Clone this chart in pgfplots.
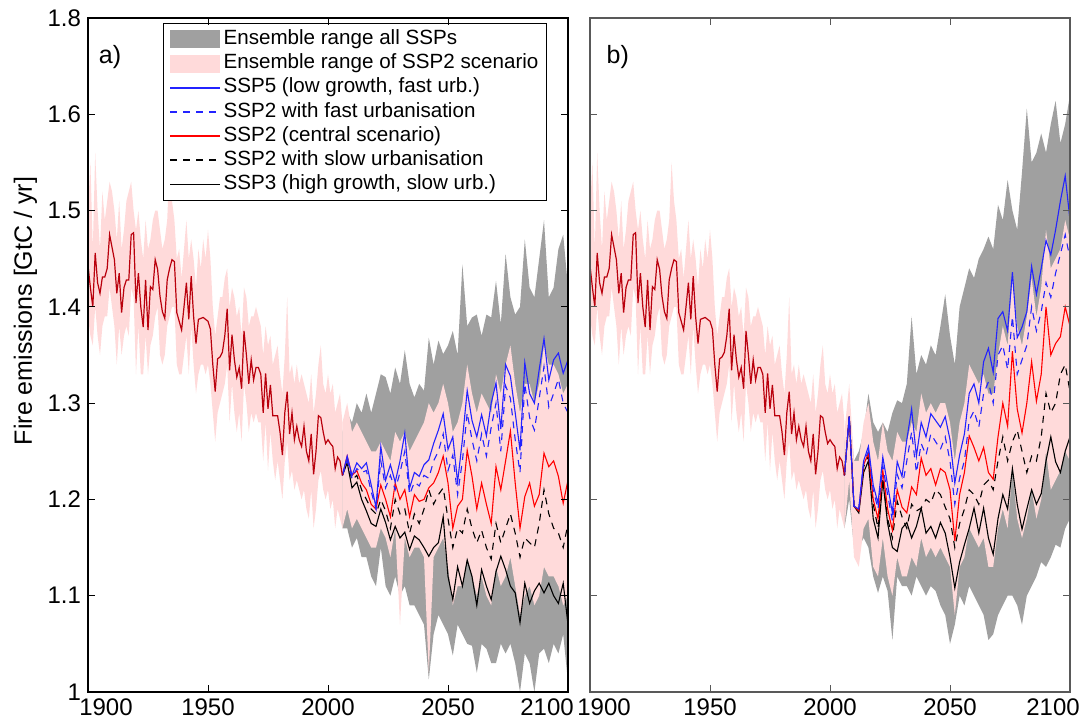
\documentclass[border=0pt]{standalone}
\usepackage{fontspec}
\setmainfont{Liberation Sans}
\usepackage{pgfplots}
\usepackage{pgfplotstable}
\pgfplotsset{compat=1.18}
\usepgfplotslibrary{fillbetween}

\definecolor{ensgray}{RGB}{160,160,160}
\definecolor{enspink}{RGB}{255,218,218}
\definecolor{histred}{RGB}{185,0,12}
\definecolor{sspblue}{RGB}{35,35,255}

% historical part, the same in both panels
\pgfplotstableread{
yr m lo hi
1900 1.443 1.39 1.50
1901 1.420 1.37 1.55
1902 1.400 1.36 1.46
1903 1.456 1.40 1.56
1904 1.425 1.37 1.50
1905 1.414 1.35 1.46
1906 1.431 1.38 1.52
1907 1.431 1.39 1.49
1908 1.440 1.39 1.51
1909 1.475 1.42 1.53
1910 1.462 1.40 1.52
1911 1.449 1.38 1.50
1912 1.414 1.34 1.47
1913 1.435 1.38 1.51
1914 1.394 1.35 1.46
1915 1.420 1.37 1.48
1916 1.428 1.38 1.51
1917 1.428 1.37 1.52
1918 1.475 1.42 1.53
1919 1.477 1.41 1.50
1920 1.404 1.33 1.48
1921 1.435 1.38 1.50
1922 1.400 1.33 1.47
1923 1.379 1.33 1.45
1924 1.428 1.37 1.49
1925 1.376 1.33 1.46
1926 1.421 1.36 1.47
1927 1.418 1.37 1.49
1928 1.449 1.39 1.50
1929 1.439 1.40 1.50
1930 1.411 1.35 1.48
1931 1.395 1.34 1.46
1932 1.388 1.35 1.47
1933 1.428 1.38 1.49
1934 1.440 1.39 1.55
1935 1.449 1.40 1.51
1936 1.447 1.40 1.49
1937 1.394 1.34 1.45
1938 1.385 1.33 1.46
1939 1.376 1.33 1.43
1940 1.400 1.35 1.46
1941 1.425 1.37 1.49
1942 1.387 1.33 1.45
1943 1.432 1.38 1.47
1944 1.390 1.34 1.45
1945 1.362 1.31 1.42
1946 1.387 1.33 1.46
1947 1.388 1.34 1.44
1948 1.389 1.34 1.47
1949 1.387 1.33 1.45
1950 1.385 1.34 1.48
1951 1.377 1.32 1.45
1952 1.340 1.29 1.40
1953 1.312 1.26 1.37
1954 1.346 1.29 1.39
1955 1.348 1.30 1.41
1956 1.353 1.31 1.41
1957 1.370 1.32 1.43
1958 1.398 1.34 1.44
1959 1.334 1.28 1.40
1960 1.371 1.32 1.42
1961 1.345 1.29 1.41
1962 1.327 1.27 1.39
1963 1.337 1.29 1.40
1964 1.315 1.26 1.37
1965 1.375 1.32 1.42
1966 1.350 1.30 1.41
1967 1.320 1.27 1.38
1968 1.345 1.29 1.39
1969 1.324 1.28 1.39
1970 1.337 1.29 1.40
1971 1.337 1.28 1.39
1972 1.330 1.28 1.38
1973 1.290 1.24 1.35
1974 1.331 1.28 1.38
1975 1.294 1.23 1.36
1976 1.319 1.27 1.37
1977 1.287 1.24 1.34
1978 1.287 1.22 1.35
1979 1.287 1.24 1.36
1980 1.270 1.22 1.33
1981 1.246 1.20 1.31
1982 1.290 1.24 1.35
1983 1.312 1.26 1.41
1984 1.268 1.22 1.33
1985 1.290 1.23 1.34
1986 1.262 1.21 1.32
1987 1.276 1.22 1.34
1988 1.262 1.21 1.32
1989 1.255 1.20 1.33
1990 1.276 1.21 1.32
1991 1.250 1.19 1.31
1992 1.240 1.18 1.30
1993 1.268 1.21 1.33
1994 1.226 1.17 1.29
1995 1.250 1.19 1.31
1996 1.287 1.22 1.34
1997 1.285 1.23 1.36
1998 1.270 1.21 1.32
1999 1.258 1.20 1.31
2000 1.262 1.21 1.33
2001 1.258 1.19 1.31
2002 1.255 1.20 1.32
2003 1.232 1.17 1.29
2004 1.244 1.19 1.30
2005 1.240 1.18 1.31
2006 1.225 1.17 1.28
}\hist

% panel a) scenarios
\pgfplotstableread{
yr glo ghi plo phi s5 s2f s2 s2s s3
2006 1.17 1.27 1.17 1.28 1.225 1.225 1.225 1.225 1.225
2008 1.17 1.29 1.19 1.30 1.245 1.240 1.245 1.240 1.238
2010 1.15 1.28 1.17 1.27 1.225 1.222 1.225 1.220 1.212
2012 1.16 1.30 1.18 1.28 1.238 1.232 1.230 1.225 1.218
2014 1.14 1.29 1.17 1.27 1.232 1.228 1.217 1.210 1.200
2016 1.14 1.31 1.16 1.26 1.238 1.230 1.210 1.200 1.188
2018 1.12 1.29 1.15 1.25 1.215 1.208 1.195 1.190 1.175
2020 1.11 1.31 1.15 1.25 1.192 1.190 1.190 1.185 1.172
2022 1.15 1.33 1.17 1.26 1.255 1.240 1.215 1.200 1.190
2024 1.11 1.327 1.16 1.25 1.220 1.212 1.200 1.188 1.176
2026 1.10 1.31 1.14 1.24 1.236 1.225 1.182 1.170 1.158
2028 1.12 1.337 1.17 1.27 1.218 1.210 1.217 1.200 1.172
2030 1.10 1.32 1.07 1.26 1.240 1.228 1.200 1.185 1.160
2032 1.11 1.355 1.16 1.27 1.269 1.250 1.210 1.190 1.166
2034 1.09 1.32 1.14 1.25 1.212 1.205 1.182 1.165 1.148
2036 1.09 1.306 1.15 1.26 1.228 1.218 1.205 1.185 1.162
2038 1.08 1.32 1.15 1.27 1.224 1.214 1.198 1.175 1.158
2040 1.07 1.313 1.14 1.28 1.236 1.225 1.200 1.190 1.150
2042 1.013 1.368 1.02 1.30 1.241 1.222 1.212 1.210 1.141
2044 1.06 1.34 1.14 1.29 1.258 1.240 1.217 1.195 1.150
2046 1.08 1.365 1.15 1.30 1.272 1.250 1.228 1.205 1.155
2048 1.07 1.351 1.16 1.32 1.289 1.268 1.245 1.212 1.182
2050 1.06 1.36 1.13 1.30 1.252 1.230 1.217 1.180 1.120
2052 1.038 1.375 1.09 1.27 1.265 1.246 1.170 1.150 1.096
2054 1.07 1.35 1.11 1.28 1.218 1.205 1.193 1.170 1.130
2056 1.06 1.444 1.11 1.30 1.262 1.240 1.200 1.165 1.110
2058 1.05 1.38 1.14 1.34 1.313 1.290 1.251 1.190 1.137
2060 1.048 1.389 1.12 1.31 1.282 1.262 1.224 1.170 1.120
2062 1.02 1.392 1.10 1.29 1.265 1.240 1.190 1.155 1.090
2064 1.05 1.37 1.12 1.31 1.288 1.268 1.217 1.168 1.127
2066 1.045 1.392 1.10 1.30 1.266 1.245 1.195 1.150 1.110
2068 1.03 1.389 1.09 1.29 1.300 1.275 1.175 1.138 1.096
2070 1.03 1.427 1.13 1.33 1.321 1.300 1.234 1.175 1.125
2072 1.05 1.382 1.11 1.31 1.273 1.250 1.210 1.155 1.141
2074 1.04 1.455 1.12 1.34 1.340 1.318 1.240 1.170 1.127
2076 1.05 1.41 1.14 1.36 1.328 1.305 1.271 1.185 1.110
2078 1.03 1.392 1.11 1.32 1.290 1.262 1.217 1.165 1.103
2080 1.00 1.40 1.08 1.29 1.251 1.228 1.170 1.140 1.072
2082 1.04 1.47 1.10 1.32 1.342 1.320 1.203 1.160 1.113
2084 1.03 1.42 1.11 1.32 1.310 1.285 1.217 1.155 1.092
2086 1.00 1.41 1.09 1.30 1.300 1.272 1.193 1.150 1.105
2088 1.04 1.45 1.10 1.32 1.335 1.305 1.205 1.175 1.113
2090 1.045 1.49 1.13 1.36 1.367 1.338 1.248 1.210 1.103
2092 1.03 1.41 1.12 1.34 1.324 1.296 1.234 1.185 1.113
2094 1.05 1.42 1.12 1.34 1.345 1.310 1.240 1.170 1.100
2096 1.04 1.46 1.11 1.33 1.352 1.325 1.224 1.165 1.092
2098 1.06 1.475 1.09 1.31 1.331 1.300 1.196 1.150 1.113
2100 1.01 1.42 1.10 1.32 1.345 1.290 1.220 1.175 1.070
}\futa

% panel b) scenarios
\pgfplotstableread{
yr glo ghi plo phi s5 s2f s2 s2s s3
2006 1.17 1.26 1.17 1.27 1.225 1.225 1.225 1.225 1.225
2008 1.20 1.30 1.22 1.32 1.286 1.286 1.286 1.286 1.286
2010 1.15 1.24 1.14 1.24 1.193 1.193 1.193 1.193 1.193
2012 1.15 1.25 1.13 1.24 1.190 1.190 1.188 1.188 1.186
2014 1.16 1.27 1.17 1.28 1.240 1.238 1.236 1.234 1.228
2016 1.15 1.31 1.18 1.30 1.255 1.250 1.248 1.245 1.240
2018 1.12 1.28 1.13 1.26 1.215 1.210 1.200 1.195 1.180
2020 1.103 1.27 1.12 1.24 1.196 1.190 1.180 1.170 1.160
2022 1.12 1.28 1.16 1.28 1.244 1.235 1.230 1.222 1.220
2024 1.105 1.27 1.12 1.25 1.215 1.205 1.190 1.180 1.175
2026 1.054 1.29 1.10 1.24 1.186 1.178 1.168 1.160 1.150
2028 1.12 1.303 1.14 1.27 1.239 1.226 1.210 1.198 1.146
2030 1.11 1.30 1.12 1.26 1.224 1.212 1.192 1.182 1.170
2032 1.11 1.32 1.12 1.26 1.262 1.240 1.186 1.170 1.176
2034 1.10 1.39 1.14 1.28 1.294 1.270 1.213 1.195 1.160
2036 1.12 1.33 1.13 1.27 1.245 1.228 1.205 1.188 1.172
2038 1.11 1.35 1.16 1.31 1.280 1.258 1.243 1.191 1.191
2040 1.10 1.34 1.14 1.29 1.265 1.246 1.225 1.200 1.165
2042 1.11 1.36 1.15 1.30 1.289 1.268 1.232 1.196 1.172
2044 1.105 1.35 1.14 1.29 1.282 1.260 1.215 1.210 1.160
2046 1.09 1.38 1.15 1.30 1.275 1.252 1.232 1.205 1.176
2048 1.08 1.413 1.14 1.30 1.286 1.265 1.228 1.192 1.165
2050 1.05 1.37 1.13 1.28 1.262 1.240 1.210 1.180 1.140
2052 1.07 1.34 1.08 1.24 1.217 1.195 1.157 1.150 1.108
2054 1.10 1.40 1.13 1.28 1.246 1.222 1.205 1.175 1.135
2056 1.09 1.42 1.14 1.30 1.268 1.240 1.228 1.190 1.153
2058 1.11 1.44 1.17 1.34 1.310 1.282 1.266 1.210 1.170
2060 1.10 1.43 1.16 1.33 1.320 1.292 1.254 1.205 1.191
2062 1.09 1.45 1.15 1.32 1.300 1.275 1.240 1.195 1.165
2064 1.08 1.46 1.16 1.33 1.343 1.310 1.254 1.215 1.191
2066 1.054 1.473 1.13 1.31 1.357 1.322 1.228 1.220 1.160
2068 1.06 1.46 1.13 1.31 1.332 1.300 1.221 1.210 1.143
2070 1.08 1.506 1.17 1.35 1.388 1.350 1.265 1.240 1.180
2072 1.09 1.49 1.19 1.38 1.395 1.360 1.300 1.265 1.205
2074 1.10 1.532 1.17 1.36 1.375 1.335 1.276 1.240 1.190
2076 1.10 1.50 1.23 1.43 1.436 1.390 1.354 1.260 1.232
2078 1.09 1.48 1.18 1.38 1.368 1.330 1.294 1.272 1.195
2080 1.07 1.54 1.16 1.36 1.379 1.345 1.269 1.250 1.169
2082 1.10 1.606 1.18 1.39 1.395 1.360 1.300 1.228 1.190
2084 1.11 1.55 1.21 1.43 1.442 1.400 1.343 1.245 1.210
2086 1.12 1.56 1.18 1.39 1.413 1.375 1.302 1.240 1.195
2088 1.135 1.58 1.20 1.42 1.440 1.395 1.330 1.265 1.206
2090 1.13 1.56 1.25 1.48 1.469 1.425 1.400 1.310 1.240
2092 1.14 1.59 1.21 1.44 1.454 1.410 1.350 1.290 1.265
2094 1.153 1.614 1.22 1.45 1.480 1.435 1.362 1.300 1.239
2096 1.15 1.57 1.23 1.46 1.510 1.455 1.369 1.330 1.228
2098 1.17 1.59 1.25 1.49 1.536 1.475 1.400 1.340 1.250
2100 1.18 1.62 1.24 1.47 1.490 1.450 1.380 1.312 1.265
}\futb

\pgfplotsset{
  panel/.style={
    width=240pt, height=337pt, scale only axis,
    xmin=1900, xmax=2100, ymin=1, ymax=1.7,
    xtick={1900,1950,2000,2050,2100},
    ytick={1,1.1,1.2,1.3,1.4,1.5,1.6,1.7},
    tick align=inside, tick pos=both, major tick length=3.5pt,
    ticklabel style={font=\fontsize{12}{14}\selectfont},
    /pgf/number format/assume math mode=true,
    /pgf/number format/1000 sep={},
    axis on top,
  },
  legpatch/.style={legend image code/.code={\fill[##1, fill=#1] (0pt,-4.5pt) rectangle (25pt,4.5pt);}},
  legline/.style={legend image code/.code={\draw[##1, draw=#1, line width=0.9pt] (0pt,0pt) -- (25pt,0pt);}},
  ln/.style={line width=0.55pt},
  dsh/.style={dash pattern=on 3.5pt off 3pt},
}

\begin{document}
\begin{tikzpicture}
\begin{axis}[panel, name=pa, at={(0pt,0pt)}, anchor=south west,
  axis line style={black, line width=0.6pt}, tick style={black, line width=0.5pt},
  yticklabels={1,1.1,1.2,1.3,1.4,1.5,1.6,1.8},
  xticklabels={\hspace*{18pt}1900,1950,2000,2050,2100\hspace*{21pt}},
  legend cell align=left,
  legend style={at={(rel axis cs:0.156,0.993)}, anchor=north west,
    draw=black, line width=0.5pt, fill=white,
    font=\fontsize{10.3}{12}\selectfont, inner xsep=3pt, inner ysep=2pt,
    nodes={inner sep=1.2pt, text height=7.4pt, text depth=2.3pt}}]
  \addlegendimage{legpatch=ensgray, draw=none}
  \addlegendentry{Ensemble range all SSPs}
  \addlegendimage{legpatch=enspink, draw=none}
  \addlegendentry{Ensemble range of SSP2 scenario}
  \addlegendimage{legline=sspblue}
  \addlegendentry{SSP5 (low growth, fast urb.)}
  \addlegendimage{legline=sspblue, dsh}
  \addlegendentry{SSP2 with fast urbanisation}
  \addlegendimage{legline=red}
  \addlegendentry{SSP2 (central scenario)}
  \addlegendimage{legline=black, dsh}
  \addlegendentry{SSP2 with slow urbanisation}
  \addlegendimage{legline=black}
  \addlegendentry{SSP3 (high growth, slow urb.)}

  % ensemble ranges
  \addplot[name path=ghia, draw=none, forget plot] table[x=yr, y=ghi] {\futa};
  \addplot[name path=gloa, draw=none, forget plot] table[x=yr, y=glo] {\futa};
  \addplot[fill=ensgray, draw=none, forget plot] fill between[of=ghia and gloa];
  \addplot[name path=hhia, draw=none, forget plot] table[x=yr, y=hi] {\hist};
  \addplot[name path=hloa, draw=none, forget plot] table[x=yr, y=lo] {\hist};
  \addplot[fill=enspink, draw=none, forget plot] fill between[of=hhia and hloa];
  \addplot[name path=phia, draw=none, forget plot] table[x=yr, y=phi] {\futa};
  \addplot[name path=ploa, draw=none, forget plot] table[x=yr, y=plo] {\futa};
  \addplot[fill=enspink, draw=none, forget plot] fill between[of=phia and ploa];

  % scenario lines
  \addplot[black, ln, forget plot] table[x=yr, y=s3] {\futa};
  \addplot[black, ln, dsh, forget plot] table[x=yr, y=s2s] {\futa};
  \addplot[red, ln, forget plot] table[x=yr, y=s2] {\futa};
  \addplot[sspblue, ln, dsh, forget plot] table[x=yr, y=s2f] {\futa};
  \addplot[sspblue, ln, forget plot] table[x=yr, y=s5] {\futa};
  \addplot[histred, line width=0.6pt, forget plot] table[x=yr, y=m] {\hist};

  \node[font=\fontsize{12.5}{14}\selectfont] at (rel axis cs:0.046,0.942) {a)};
\end{axis}

\begin{axis}[panel, name=pb, at={(251pt,0pt)}, anchor=south west,
  axis line style={black!65, line width=0.6pt}, tick style={black!65, line width=0.5pt},
  yticklabels={},
  xticklabels={\hspace*{14pt}1900,1950,2000,2050,2100\hspace*{17pt}}]
  \addplot[name path=ghib, draw=none, forget plot] table[x=yr, y=ghi] {\futb};
  \addplot[name path=glob, draw=none, forget plot] table[x=yr, y=glo] {\futb};
  \addplot[fill=ensgray, draw=none, forget plot] fill between[of=ghib and glob];
  \addplot[name path=hhib, draw=none, forget plot] table[x=yr, y=hi] {\hist};
  \addplot[name path=hlob, draw=none, forget plot] table[x=yr, y=lo] {\hist};
  \addplot[fill=enspink, draw=none, forget plot] fill between[of=hhib and hlob];
  \addplot[name path=phib, draw=none, forget plot] table[x=yr, y=phi] {\futb};
  \addplot[name path=plob, draw=none, forget plot] table[x=yr, y=plo] {\futb};
  \addplot[fill=enspink, draw=none, forget plot] fill between[of=phib and plob];

  \addplot[black, ln, forget plot] table[x=yr, y=s3] {\futb};
  \addplot[black, ln, dsh, forget plot] table[x=yr, y=s2s] {\futb};
  \addplot[red, ln, forget plot] table[x=yr, y=s2] {\futb};
  \addplot[sspblue, ln, dsh, forget plot] table[x=yr, y=s2f] {\futb};
  \addplot[sspblue, ln, forget plot] table[x=yr, y=s5] {\futb};
  \addplot[histred, line width=0.6pt, forget plot] table[x=yr, y=m] {\hist};

  \node[font=\fontsize{12.5}{14}\selectfont] at (rel axis cs:0.058,0.942) {b)};
\end{axis}

\node[rotate=90, anchor=base, font=\fontsize{12.5}{14}\selectfont] at (-28pt,190.5pt) {Fire emissions [GtC / yr]};

\pgfresetboundingbox
\path[use as bounding box] (-44pt,-17.5pt) rectangle (501pt,346pt);
\end{tikzpicture}
\end{document}
